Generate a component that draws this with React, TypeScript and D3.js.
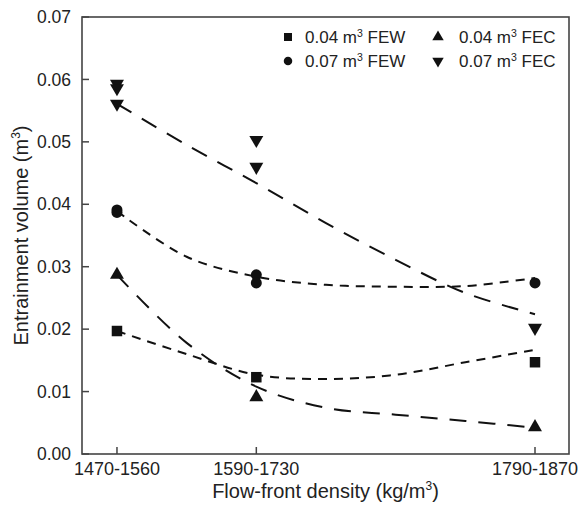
import React from "react";
import * as d3 from "d3";

const xCats = ["1470-1560", "1590-1730", "1790-1870"];
const xPos = [1, 2, 4];
const yTicks = [0, 0.01, 0.02, 0.03, 0.04, 0.05, 0.06, 0.07];

// observed points: [x position, value]
const few004: [number, number][] = [[1, 0.0197], [2, 0.0123], [4, 0.0147]];
const fec004: [number, number][] = [[1, 0.0287], [2, 0.0091], [4, 0.0043]];
const few007: [number, number][] = [[1, 0.0391], [1, 0.0387], [2, 0.0287], [2, 0.0274], [4, 0.0274]];
const fec007: [number, number][] = [[1, 0.0593], [1, 0.0586], [1, 0.0561], [2, 0.0503], [2, 0.046], [4, 0.0202]];

// trend curves
const trendX = [1, 1.5, 2, 2.5, 3, 3.5, 4];
const few004Trend = [0.0197, 0.016, 0.0127, 0.012, 0.0127, 0.0147, 0.0167];
const fec004Trend = [0.0287, 0.0178, 0.0108, 0.0074, 0.0063, 0.0053, 0.0042];
const few007Trend = [0.0389, 0.0316, 0.0284, 0.0271, 0.0268, 0.0269, 0.0282];
const fec007Trend = [0.0561, 0.0495, 0.0434, 0.037, 0.0311, 0.0258, 0.0224];

const W = 580, H = 507;
const L = 82, R = 569, T = 17, B = 454;
const FONT = "'Liberation Sans', Arial, sans-serif";
const INK = "#111";

const x = d3.scaleLinear().domain([0.749, 4.244]).range([L, R]);
const y = d3.scaleLinear().domain([0, 0.07]).range([B, T]);

type Kind = "square" | "circle" | "up" | "down";

function markerPath(kind: Kind, s: number): string {
  if (kind === "square") return `M${-s / 2},${-s / 2}h${s}v${s}h${-s}Z`;
  if (kind === "circle") {
    const r = s / 2;
    return `M${r},0A${r},${r} 0 1,1 ${-r},0A${r},${r} 0 1,1 ${r},0Z`;
  }
  const w = s * 1.27, h = s * 1.1;
  if (kind === "up") return `M0,${(-2 * h) / 3}L${w / 2},${h / 3}L${-w / 2},${h / 3}Z`;
  return `M0,${(2 * h) / 3}L${w / 2},${-h / 3}L${-w / 2},${-h / 3}Z`;
}

const series = [
  { name: "0.04", type: "FEW", kind: "square" as Kind, pts: few004, trend: few004Trend, dash: "9,7", size: 10.5 },
  { name: "0.04", type: "FEC", kind: "up" as Kind, pts: fec004, trend: fec004Trend, dash: "17,12", size: 11 },
  { name: "0.07", type: "FEW", kind: "circle" as Kind, pts: few007, trend: few007Trend, dash: "9,7", size: 11 },
  { name: "0.07", type: "FEC", kind: "down" as Kind, pts: fec007, trend: fec007Trend, dash: "17,12", size: 11 },
];

const line = d3
  .line<[number, number]>()
  .x((d) => x(d[0]))
  .y((d) => y(d[1]))
  .curve(d3.curveCatmullRom);

const legendPos = [
  { mx: 288, tx: 305, cy: 37 },
  { mx: 438, tx: 459, cy: 37 },
  { mx: 288, tx: 305, cy: 61 },
  { mx: 438, tx: 459, cy: 61 },
];

export default function App() {
  return (
    <svg width={W} height={H} style={{ position: "absolute", left: 0, top: 0, background: "#fff" }} fontFamily={FONT}>
      <rect x={0} y={0} width={W} height={H} fill="#fff" />
      {/* trend lines */}
      {series.map((s, i) => (
        <path
          key={"t" + i}
          d={line(trendX.map((tx, j) => [tx, s.trend[j]] as [number, number])) || ""}
          fill="none"
          stroke={INK}
          strokeWidth={2}
          strokeDasharray={s.dash}
        />
      ))}
      {/* markers */}
      {series.map((s, i) =>
        s.pts.map((p, j) => (
          <path key={`m${i}-${j}`} d={markerPath(s.kind, s.size)} transform={`translate(${x(p[0])},${y(p[1])})`} fill={INK} />
        ))
      )}
      {/* frame */}
      <rect x={L} y={T} width={R - L} height={B - T} fill="none" stroke="#444" strokeWidth={1.6} />
      {/* y ticks */}
      {yTicks.map((t) => (
        <g key={"y" + t}>
          <line x1={L} x2={L + 7} y1={y(t)} y2={y(t)} stroke="#444" strokeWidth={1.5} />
          <text x={71} y={y(t)} dy="0.35em" textAnchor="end" fontSize={17.5} fill="#222">
            {d3.format(".2f")(t)}
          </text>
        </g>
      ))}
      {/* x ticks */}
      {xPos.map((p, i) => (
        <g key={"x" + i}>
          <line x1={x(p)} x2={x(p)} y1={B} y2={B - 7} stroke="#444" strokeWidth={1.5} />
          <text x={x(p)} y={475} textAnchor="middle" fontSize={18} fill="#222">
            {xCats[i]}
          </text>
        </g>
      ))}
      {/* axis titles */}
      <text x={(L + R) / 2} y={498} textAnchor="middle" fontSize={20} fill="#222">
        Flow-front density (kg/m
        <tspan fontSize={12} dy={-8}>3</tspan>
        <tspan dy={8}>)</tspan>
      </text>
      <text transform={`translate(28,${(T + B) / 2}) rotate(-90)`} textAnchor="middle" fontSize={20} fill="#222">
        Entrainment volume (m
        <tspan fontSize={12} dy={-8}>3</tspan>
        <tspan dy={8}>)</tspan>
      </text>
      {/* legend */}
      {series.map((s, i) => (
        <g key={"l" + i}>
          <path
            d={markerPath(s.kind, s.kind === "square" ? 8 : s.kind === "circle" ? 8.5 : 9)}
            transform={`translate(${legendPos[i].mx},${legendPos[i].cy})`}
            fill={INK}
          />
          <text x={legendPos[i].tx} y={legendPos[i].cy} dy="0.36em" fontSize={17} fill="#222">
            {s.name} m<tspan fontSize={10.5} dy={-6}>3</tspan>
            <tspan dy={6}> {s.type}</tspan>
          </text>
        </g>
      ))}
    </svg>
  );
}
